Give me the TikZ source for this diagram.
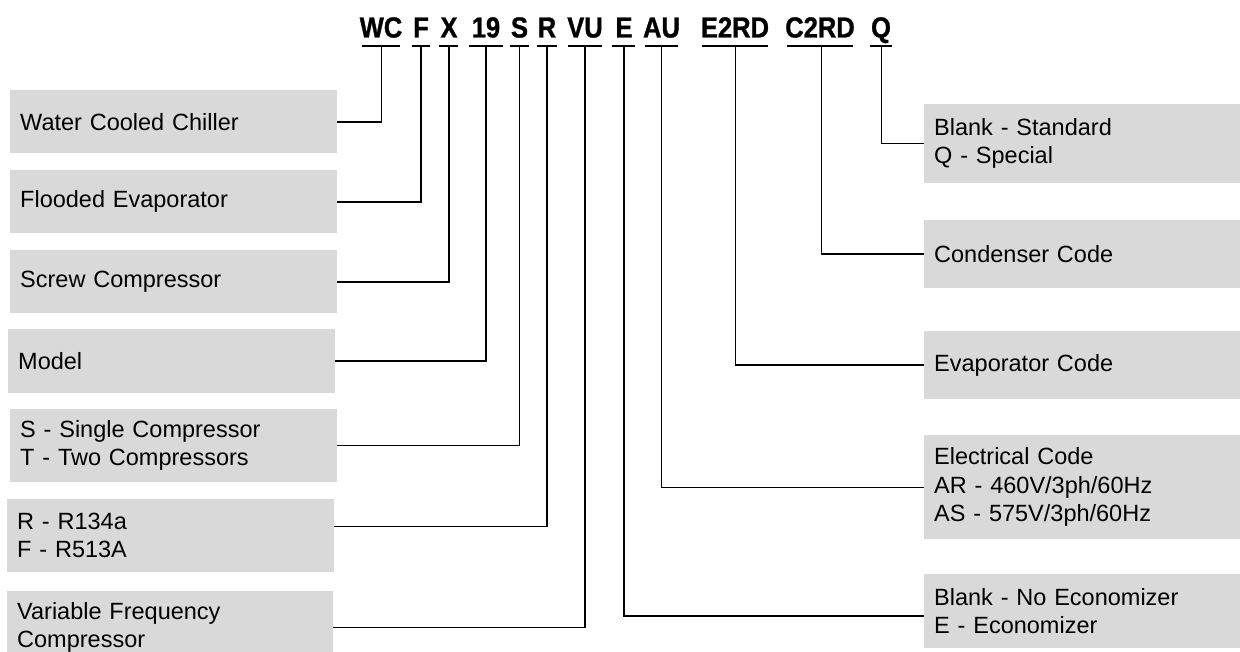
\documentclass[tikz,border=0pt]{standalone}
\usepackage{fontspec}
\setmainfont{Liberation Sans}
\newfontfamily\codefont{Liberation Sans}[FakeStretch=0.88,FakeBold=1]
\definecolor{boxgray}{RGB}{217,217,217}
\begin{document}
\begin{tikzpicture}[x=1pt,y=-1pt,
  code/.style={anchor=base,inner sep=0pt,font=\codefont\bfseries\fontsize{29}{30}\selectfont},
  bar/.style={line width=2.7pt},
  conn/.style={line width=1.4pt},
  lbox/.style={fill=boxgray,anchor=north west,inner xsep=10pt,inner ysep=0pt,
    text width=307pt,align=left,font=\fontsize{23.5}{28.3}\selectfont},
  rbox/.style={fill=boxgray,anchor=north west,inner xsep=10pt,inner ysep=0pt,
    text width=296pt,align=left,font=\fontsize{23.5}{28.3}\selectfont}]
\clip (0,0) rectangle (1240,652);
\useasboundingbox (0,0) rectangle (1240,652);

% codes
\node[code] (cWC) at (381,37.5) {WC};
\node[code] (cF) at (421,37.5) {F};
\node[code] (cX) at (449,37.5) {X};
\node[code] (c19) at (486,37.5) {19};
\node[code] (cS) at (519.5,37.5) {S};
\node[code] (cR) at (547,37.5) {R};
\node[code] (cVU) at (585,37.5) {VU};
\node[code] (cE) at (624,37.5) {E};
\node[code] (cAU) at (661.5,37.5) {AU};
\node[code] (cE2) at (735,37.5) {E2RD};
\node[code] (cC2) at (820,37.5) {C2RD};
\node[code] (cQ) at (881,37.5) {Q};

% bars under the codes
\draw[bar] (361.7,46) -- (400,46);
\draw[bar] (411.7,46) -- (430,46);
\draw[bar] (439,46) -- (458,46);
\draw[bar] (469,46) -- (503,46);
\draw[bar] (510,46) -- (529,46);
\draw[bar] (537,46) -- (557,46);
\draw[bar] (568,46) -- (602,46);
\draw[bar] (612,46) -- (635,46);
\draw[bar] (645,46) -- (678,46);
\draw[bar] (701.7,46) -- (768.3,46);
\draw[bar] (786.7,46) -- (853.3,46);
\draw[bar] (870,46) -- (891.7,46);

\coordinate (sWC) at (381.7,46);
\coordinate (sF) at (421,46);
\coordinate (sX) at (449,46);
\coordinate (s19) at (486,46);
\coordinate (sS) at (519.5,46);
\coordinate (sR) at (547,46);
\coordinate (sVU) at (585,46);
\coordinate (sE) at (624,46);
\coordinate (sAU) at (661.7,46);
\coordinate (sE2) at (735.7,46);
\coordinate (sC2) at (821.7,46);
\coordinate (sQ) at (881.7,46);

% left boxes
\node[lbox,minimum height=63.3pt] (wcc) at (10,90) {Water Cooled Chiller};
\node[lbox,minimum height=63.3pt] (fe) at (10,170) {Flooded Evaporator};
\node[lbox,minimum height=63.3pt] (sc) at (10,250) {Screw Compressor};
\node[lbox,minimum height=63.7pt] (mod) at (8,329) {Model};
\node[lbox,minimum height=72.7pt] (sing) at (10,409) {S - Single Compressor\\T - Two Compressors};
\node[lbox,minimum height=73.4pt] (ref) at (7,498.3) {R - R134a\\F - R513A};
\node[lbox,minimum height=73pt,text width=306pt] (vfc) at (7,591) {Variable Frequency\\Compressor};

% right boxes
\node[rbox,minimum height=78.7pt] (spec) at (924,104) {Blank - Standard\\Q - Special};
\node[rbox,minimum height=67.7pt] (cond) at (924,220) {Condenser Code};
\node[rbox,minimum height=67.7pt] (evap) at (924,331) {Evaporator Code};
\node[rbox,minimum height=104pt] (elec) at (924,435) {Electrical Code\\AR - 460V/3ph/60Hz\\AS - 575V/3ph/60Hz};
\node[rbox,minimum height=74pt] (econ) at (924,574) {Blank - No Economizer\\E - Economizer};

\coordinate (refIn) at (334,526.7);
\coordinate (econIn) at (924,616);

% connectors
\draw[conn] (sWC) |- (wcc.east);
\draw[conn] (sF) |- (fe.east);
\draw[conn] (sX) |- (sc.east);
\draw[conn] (s19) |- (mod.east);
\draw[conn] (sS) |- (sing.east);
\draw[conn] (sR) |- (refIn);
\draw[conn] (sVU) |- (vfc.east);
\draw[conn] (sE) |- (econIn);
\draw[conn] (sAU) |- (elec.west);
\draw[conn] (sE2) |- (evap.west);
\draw[conn] (sC2) |- (cond.west);
\draw[conn] (sQ) |- (spec.west);
\end{tikzpicture}
\end{document}
